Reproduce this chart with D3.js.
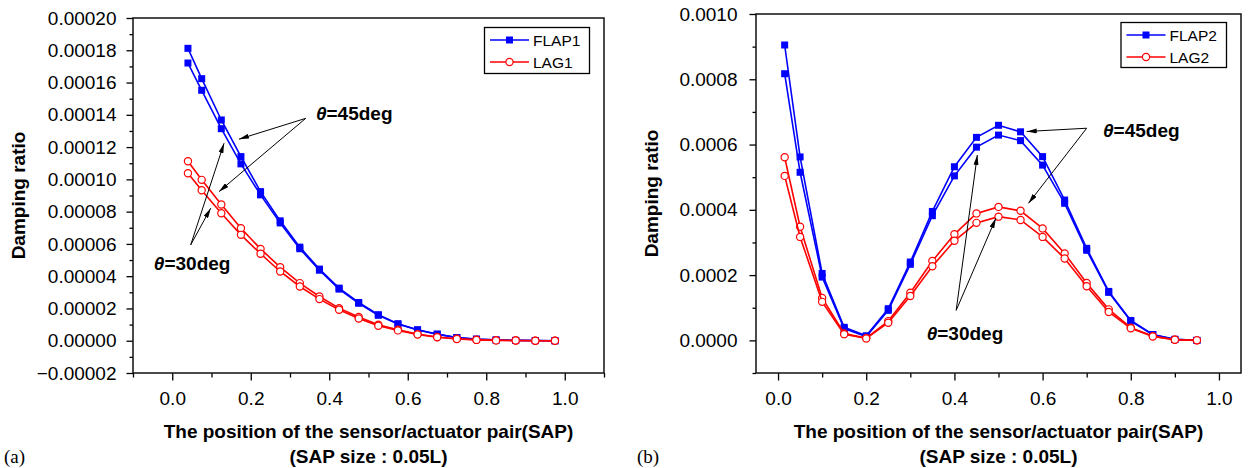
<!DOCTYPE html>
<html>
<head>
<meta charset="utf-8">
<script src="https://d3js.org/d3.v7.min.js"></script>
<style>
  body { margin: 0; background: #fff; }
  text { font-family: 'Liberation Sans', Arial, Helvetica, sans-serif; fill: #000; }
</style>
</head>
<body>
<svg id="mainsvg" width="1252" height="468"></svg>
<script>
// ---- panel (a): first mode, SAP positions and damping ratios ----
const posA = [0.04, 0.075, 0.125, 0.175, 0.225, 0.275, 0.325, 0.375, 0.425, 0.475,
              0.525, 0.575, 0.625, 0.675, 0.725, 0.775, 0.825, 0.875, 0.925, 0.975];
const flap1Deg45 = [0.0001812, 0.0001624, 0.0001368, 0.0001141, 0.0000924, 0.0000743, 0.0000580, 0.0000444, 0.0000326, 0.0000237,
                    0.0000161, 0.0000105, 0.0000068, 0.0000041, 0.0000020, 0.0000010, 0.0000005, 0.0000002, 0.0000001, 0];
const flap1Deg30 = [0.0001721, 0.0001552, 0.0001314, 0.0001096, 0.0000904, 0.0000730, 0.0000570, 0.0000437, 0.0000320, 0.0000232,
                    0.0000158, 0.0000103, 0.0000066, 0.0000040, 0.0000019, 0.0000009, 0.0000004, 0.0000002, 0.0000001, 0];
const lag1Deg45 = [0.0001112, 0.0000997, 0.0000844, 0.0000697, 0.0000569, 0.0000456, 0.0000357, 0.0000274, 0.0000202, 0.0000147,
                   0.0000099, 0.0000068, 0.0000041, 0.0000023, 0.0000012, 0.0000006, 0.0000003, 0.0000001, 0, 0];
const lag1Deg30 = [0.0001038, 0.0000933, 0.0000790, 0.0000656, 0.0000539, 0.0000429, 0.0000336, 0.0000258, 0.0000192, 0.0000138,
                   0.0000093, 0.0000064, 0.0000039, 0.0000022, 0.0000011, 0.0000005, 0.0000002, 0.0000001, 0, 0];
const yTicksA = [-0.00002, 0, 0.00002, 0.00004, 0.00006, 0.00008, 0.00010, 0.00012, 0.00014, 0.00016, 0.00018, 0.00020];
const yMinorA = [-0.00001, 0.00001, 0.00003, 0.00005, 0.00007, 0.00009, 0.00011, 0.00013, 0.00015, 0.00017, 0.00019];
const xTicksA = [0, 0.2, 0.4, 0.6, 0.8, 1.0];
const xMinorA = [-0.1, 0.1, 0.3, 0.5, 0.7, 0.9, 1.1];

// ---- panel (b): second mode ----
const posB = [0.015, 0.05, 0.1, 0.15, 0.2, 0.25, 0.3, 0.35, 0.4, 0.45,
              0.5, 0.55, 0.6, 0.65, 0.7, 0.75, 0.8, 0.85, 0.9, 0.95];
const flap2Deg45 = [0.000905, 0.000562, 0.000205, 0.000040, 0.000014, 0.000097, 0.000240, 0.000395, 0.000532, 0.000622,
                    0.000659, 0.000639, 0.000563, 0.000430, 0.000282, 0.000150, 0.000061, 0.000018, 0.000003, 0];
const flap2Deg30 = [0.000817, 0.000515, 0.000194, 0.000036, 0.000012, 0.000092, 0.000233, 0.000382, 0.000504, 0.000592,
                    0.000629, 0.000612, 0.000537, 0.000420, 0.000276, 0.000147, 0.000059, 0.000017, 0.000003, 0];
const lag2Deg45 = [0.000561, 0.000348, 0.000130, 0.000021, 0.000007, 0.000059, 0.000146, 0.000243, 0.000325, 0.000389,
                   0.000409, 0.000397, 0.000343, 0.000266, 0.000176, 0.000095, 0.000039, 0.000013, 0.000002, 0];
const lag2Deg30 = [0.000504, 0.000317, 0.000118, 0.000019, 0.000006, 0.000054, 0.000136, 0.000227, 0.000305, 0.000360,
                   0.000379, 0.000369, 0.000317, 0.000251, 0.000166, 0.000087, 0.000037, 0.000012, 0.000002, 0];
const yTicksB = [0, 0.0002, 0.0004, 0.0006, 0.0008, 0.0010];
const yMinorB = [-0.0001, 0.0001, 0.0003, 0.0005, 0.0007, 0.0009];
const xTicksB = [0, 0.2, 0.4, 0.6, 0.8, 1.0];
const xMinorB = [0.1, 0.3, 0.5, 0.7, 0.9];

// annotation anchors in data units: [text x, text y, apex x, apex y, [[end x, end y], ...]]
const noteA45 = [0.366, 0.0001368, 0.340, 0.0001378, [[0.170, 0.0001249], [0.119, 0.0000924]]];
const noteA30 = [-0.047, 0.0000440, 0.047, 0.0000594, [[0.132, 0.0001224], [0.098, 0.0000821]]];
const noteB45 = [0.737, 0.000623, 0.700, 0.000650, [[0.564, 0.000640], [0.568, 0.000420]]];
const noteB30 = [0.337, 0.0, 0.404, 0.000092, [[0.452, 0.000568], [0.494, 0.000374]]];

const BLUE = '#0000ff';
const RED = '#ff0000';

const svg = d3.select('#mainsvg');

svg.append('defs').append('marker')
  .attr('id', 'arrow')
  .attr('markerUnits', 'userSpaceOnUse')
  .attr('viewBox', '0 0 10 5')
  .attr('refX', 10).attr('refY', 2.5)
  .attr('markerWidth', 10).attr('markerHeight', 5)
  .attr('orient', 'auto')
  .append('path').attr('d', 'M0,0 L10,2.5 L0,5 Z').attr('fill', '#000');

function drawPanel(p) {
  const xScale = d3.scaleLinear().domain(p.xDomain).range([p.left, p.right]);
  const yScale = d3.scaleLinear().domain(p.yDomain).range([p.bottom, p.top]);
  const g = svg.append('g');

  // axes: major ticks with labels, minor ticks without
  const xAxis = g.append('g').attr('transform', `translate(0, ${p.bottom})`)
    .call(d3.axisBottom(xScale).tickValues(p.xTicks).tickSize(7.5).tickPadding(11).tickFormat(d3.format('.1f')));
  g.append('g').attr('transform', `translate(0, ${p.bottom})`)
    .call(d3.axisBottom(xScale).tickValues(p.xMinor).tickSize(4.5).tickFormat(''));
  g.append('g').attr('transform', `translate(${p.left}, 0)`)
    .call(d3.axisLeft(yScale).tickValues(p.yTicks).tickSize(6.5).tickPadding(p.yPad).tickFormat(d3.format(p.yFmt)));
  g.append('g').attr('transform', `translate(${p.left}, 0)`)
    .call(d3.axisLeft(yScale).tickValues(p.yMinor).tickSize(3.5).tickFormat(''));
  g.selectAll('.domain').remove();
  g.selectAll('.tick line').attr('stroke', '#000').attr('stroke-width', 1.3);
  g.selectAll('.tick text').attr('font-size', '19px').attr('fill', '#000');

  g.append('rect')
    .attr('x', p.left).attr('y', p.top)
    .attr('width', p.right - p.left).attr('height', p.bottom - p.top)
    .attr('fill', 'none').attr('stroke', '#111').attr('stroke-width', 1.5);

  const line = d3.line().x(d => xScale(d[0])).y(d => yScale(d[1]));

  p.series.forEach(s => {
    const pts = p.pos.map((x, i) => [x, s.values[i]]);
    g.append('path').datum(pts)
      .attr('d', line)
      .attr('fill', 'none').attr('stroke', s.color).attr('stroke-width', 1.6);
    if (s.marker === 'square') {
      g.selectAll(null).data(pts).enter().append('rect')
        .attr('x', d => xScale(d[0]) - 3.5).attr('y', d => yScale(d[1]) - 3.5)
        .attr('width', 7).attr('height', 7)
        .attr('fill', s.color);
    } else {
      g.selectAll(null).data(pts).enter().append('circle')
        .attr('cx', d => xScale(d[0])).attr('cy', d => yScale(d[1]))
        .attr('r', 3.6)
        .attr('fill', '#fff').attr('stroke', s.color).attr('stroke-width', 1.2);
    }
  });

  // theta annotations with arrows
  p.notes.forEach(n => {
    const [tx, ty, ax, ay, ends] = n.anchor;
    ends.forEach(e => {
      g.append('line')
        .attr('x1', xScale(ax)).attr('y1', yScale(ay))
        .attr('x2', xScale(e[0])).attr('y2', yScale(e[1]))
        .attr('stroke', '#000').attr('stroke-width', 1)
        .attr('marker-end', 'url(#arrow)');
    });
    const t = g.append('text')
      .attr('x', xScale(tx)).attr('y', yScale(ty))
      .attr('font-size', '19px').attr('font-weight', 'bold');
    t.append('tspan').attr('font-style', 'italic').text('\u03b8');
    t.append('tspan').text(n.label);
  });

  // legend
  const lg = g.append('g');
  lg.append('rect')
    .attr('x', p.legend.x).attr('y', p.legend.y)
    .attr('width', p.legend.w).attr('height', p.legend.h)
    .attr('fill', '#fff').attr('stroke', '#000').attr('stroke-width', 1.3);
  p.legend.items.forEach((it, i) => {
    const ly = p.legend.y + 12.5 + i * 22;
    const lx = p.legend.x + 5.5;
    lg.append('line')
      .attr('x1', lx).attr('x2', lx + 39).attr('y1', ly).attr('y2', ly)
      .attr('stroke', it.color).attr('stroke-width', 1.6);
    if (it.marker === 'square') {
      lg.append('rect').attr('x', lx + 16).attr('y', ly - 3.5)
        .attr('width', 7).attr('height', 7).attr('fill', it.color);
    } else {
      lg.append('circle').attr('cx', lx + 19.5).attr('cy', ly).attr('r', 3.6)
        .attr('fill', '#fff').attr('stroke', it.color).attr('stroke-width', 1.2);
    }
    lg.append('text')
      .attr('x', lx + 43).attr('y', ly + 5.5)
      .attr('font-size', '15.5px')
      .text(it.name);
  });

  // axis titles
  g.append('text')
    .attr('transform', `translate(${p.yTitleX}, ${(p.top + p.bottom) / 2}) rotate(-90)`)
    .attr('text-anchor', 'middle')
    .attr('font-size', '19px').attr('font-weight', 'bold')
    .text('Damping ratio');
  const cx = (p.left + p.right) / 2;
  g.append('text')
    .attr('x', cx).attr('y', 438)
    .attr('text-anchor', 'middle')
    .attr('font-size', '19px').attr('font-weight', 'bold')
    .text('The position of the sensor/actuator pair(SAP)');
  g.append('text')
    .attr('x', cx).attr('y', 463)
    .attr('text-anchor', 'middle')
    .attr('font-size', '19px').attr('font-weight', 'bold')
    .text('(SAP size : 0.05L)');

  g.append('text')
    .attr('x', p.tagX).attr('y', 463)
    .attr('font-size', '19px')
    .style('font-family', "'Liberation Serif', 'Times New Roman', serif")
    .text(p.tag);
}

drawPanel({
  left: 133, right: 604, top: 18, bottom: 373,
  xDomain: [-0.1, 1.1], yDomain: [-0.00002, 0.00020],
  xTicks: xTicksA, xMinor: xMinorA, yTicks: yTicksA, yMinor: yMinorA,
  yFmt: '.5f', yPad: 10, yTitleX: 24.5, tag: '(a)', tagX: 4,
  pos: posA,
  series: [
    {values: flap1Deg45, color: BLUE, marker: 'square'},
    {values: flap1Deg30, color: BLUE, marker: 'square'},
    {values: lag1Deg45, color: RED, marker: 'circle'},
    {values: lag1Deg30, color: RED, marker: 'circle'}
  ],
  notes: [
    {label: '=45deg', anchor: noteA45},
    {label: '=30deg', anchor: noteA30}
  ],
  legend: {x: 484.5, y: 27.5, w: 105, h: 46,
    items: [{name: 'FLAP1', color: BLUE, marker: 'square'}, {name: 'LAG1', color: RED, marker: 'circle'}]}
});

drawPanel({
  left: 756, right: 1241, top: 14, bottom: 373,
  xDomain: [-0.05, 1.05], yDomain: [-0.0001, 0.0010],
  xTicks: xTicksB, xMinor: xMinorB, yTicks: yTicksB, yMinor: yMinorB,
  yFmt: '.4f', yPad: 12, yTitleX: 658, tag: '(b)', tagX: 637,
  pos: posB,
  series: [
    {values: flap2Deg45, color: BLUE, marker: 'square'},
    {values: flap2Deg30, color: BLUE, marker: 'square'},
    {values: lag2Deg45, color: RED, marker: 'circle'},
    {values: lag2Deg30, color: RED, marker: 'circle'}
  ],
  notes: [
    {label: '=45deg', anchor: noteB45},
    {label: '=30deg', anchor: noteB30}
  ],
  legend: {x: 1121, y: 22.5, w: 105.5, h: 45,
    items: [{name: 'FLAP2', color: BLUE, marker: 'square'}, {name: 'LAG2', color: RED, marker: 'circle'}]}
});
</script>
</body>
</html>
